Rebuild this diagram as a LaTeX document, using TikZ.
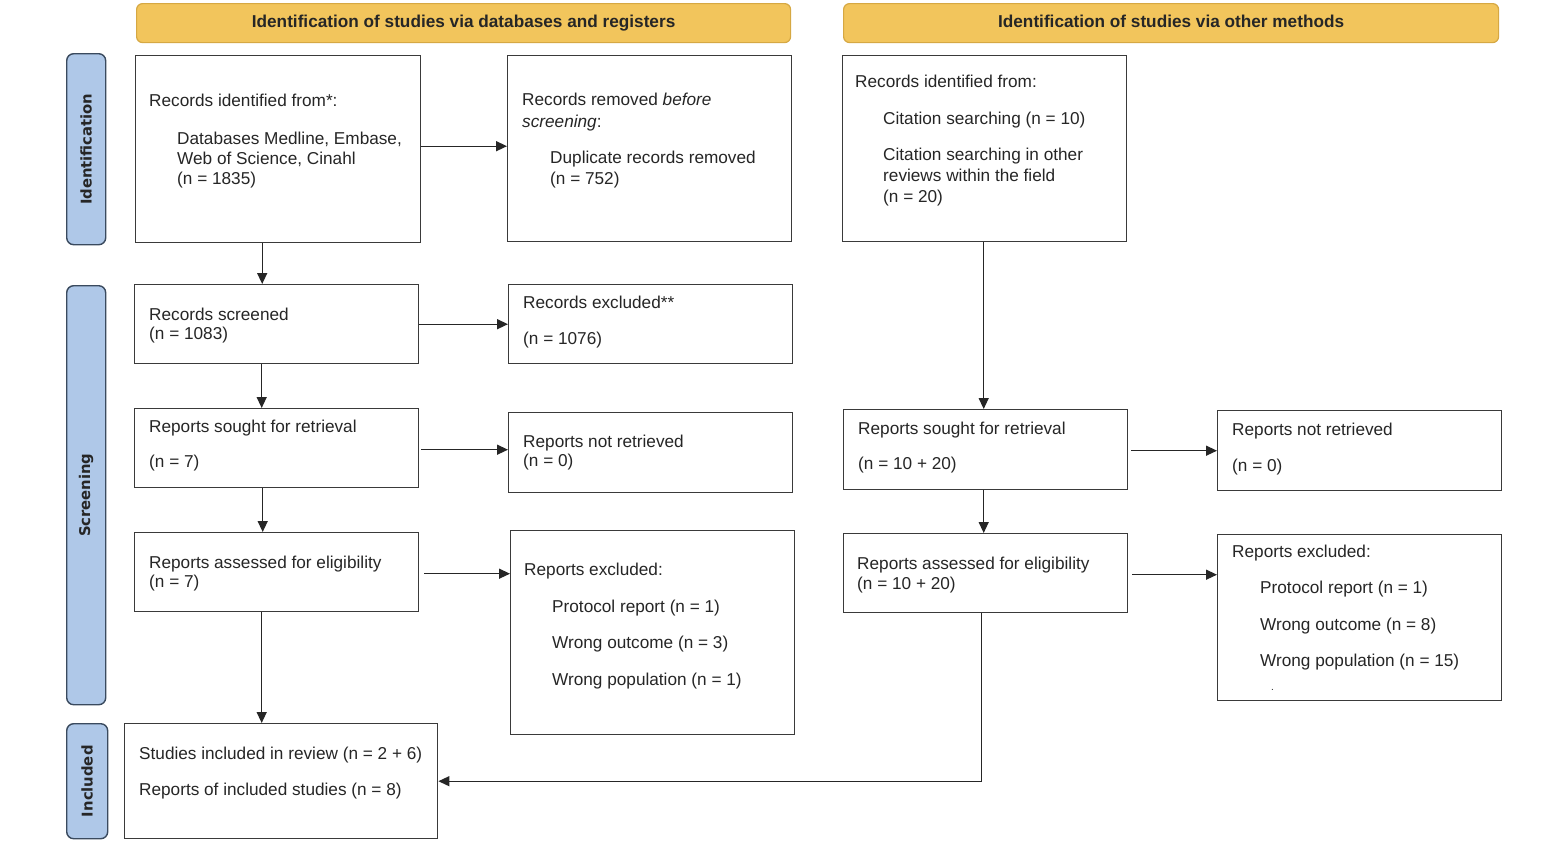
\documentclass[tikz,border=0pt]{standalone}
\usepackage{fontspec}
\setmainfont{Liberation Sans}
\newfontfamily\sidefont{DejaVu Sans}
\usetikzlibrary{arrows.meta,calc}
\definecolor{hdrfill}{HTML}{F2C55C}
\definecolor{hdrline}{HTML}{D6A843}
\definecolor{sidefill}{HTML}{AFC8E8}
\definecolor{sideline}{HTML}{3A4A5E}
\definecolor{boxline}{HTML}{3A3A3A}
\begin{document}
\begin{tikzpicture}[x=1pt,y=-1pt,
  box/.style={draw=boxline,line width=1.4pt,fill=white,anchor=north west,inner sep=0pt},
  hdr/.style={draw=hdrline,line width=1.2pt,fill=hdrfill,rounded corners=6pt,anchor=north west,inner sep=0pt},
  hdrtxt/.style={inner sep=0pt,font=\fontsize{17.2}{20}\selectfont\bfseries,text=black!85},
  side/.style={draw=sideline,line width=1.4pt,fill=sidefill,rounded corners=7pt,anchor=north west,inner sep=0pt},
  sidetxt/.style={rotate=90,inner sep=0pt,font=\sidefont\fontsize{14.8}{17}\selectfont\bfseries,text=black!85},
  txt/.style={anchor=base west,inner sep=0pt,font=\fontsize{17.2}{20}\selectfont,text=black!85},
  arr/.style={draw=black!85,line width=1.4pt,-{Triangle[length=11pt,width=10pt]}}]
\useasboundingbox (0,0) rectangle (1558,854);
\fill[white] (0,0) rectangle (1558,854);

% headers
\node[hdr,minimum width=654pt,minimum height=39pt] (h1) at (136,3) {};
\node[hdrtxt] (h1t) at (h1.center) {Identification of studies via databases and registers};
\node[hdr,minimum width=655pt,minimum height=39pt] (h2) at (843,3) {};
\node[hdrtxt] (h2t) at ([yshift=1.5pt]h2.center) {Identification of studies via other methods};

% side labels
\node[side,minimum width=39pt,minimum height=191pt] (s1) at (66,53) {};
\node[sidetxt] (s1t) at (s1.center) {Identification};
\node[side,minimum width=39pt,minimum height=419pt] (s2) at (66,285) {};
\node[sidetxt] (s2t) at (s2.center) {Screening};
\node[side,minimum width=41pt,minimum height=115pt] (s3) at (66,723) {};
\node[sidetxt] (s3t) at (s3.center) {Included};

% boxes
\node[box,minimum width=285pt,minimum height=187pt] (rid) at (135,55) {};
\node[box,minimum width=284pt,minimum height=186pt] (rrem) at (507,55) {};
\node[box,minimum width=284pt,minimum height=186pt] (oid) at (842,55) {};
\node[box,minimum width=284pt,minimum height=79pt] (scr) at (134,284) {};
\node[box,minimum width=284pt,minimum height=79pt] (rexcl) at (508,284) {};
\node[box,minimum width=284pt,minimum height=79pt] (sought1) at (134,408) {};
\node[box,minimum width=284pt,minimum height=80pt] (notret1) at (508,412) {};
\node[box,minimum width=284pt,minimum height=79pt] (assess1) at (134,532) {};
\node[box,minimum width=284pt,minimum height=204pt] (excl1) at (510,530) {};
\node[box,minimum width=284pt,minimum height=80pt] (sought2) at (843,409) {};
\node[box,minimum width=284pt,minimum height=80pt] (notret2) at (1217,410) {};
\node[box,minimum width=284pt,minimum height=79pt] (assess2) at (843,533) {};
\node[box,minimum width=284pt,minimum height=166pt] (excl2) at (1217,534) {};
\node[box,minimum width=313pt,minimum height=115pt] (incl) at (124,723) {};

% texts
\node[txt] (t1a) at (149,106) {Records identified from*:};
\node[txt] (t1b) at (177,144) {Databases Medline, Embase,};
\node[txt] (t1c) at (177,164) {Web of Science, Cinahl};
\node[txt] (t1d) at (177,184) {(n = 1835)};

\node[txt] (t2a) at (522,105) {Records removed \textit{before}};
\node[txt] (t2b) at (522,127) {\textit{screening}:};
\node[txt] (t2c) at (550,163) {Duplicate records removed};
\node[txt] (t2d) at (550,184) {(n = 752)};

\node[txt] (t3a) at (855,87) {Records identified from:};
\node[txt] (t3b) at (883,124) {Citation searching (n = 10)};
\node[txt] (t3c) at (883,160) {Citation searching in other};
\node[txt] (t3d) at (883,181) {reviews within the field};
\node[txt] (t3e) at (883,202) {(n = 20)};

\node[txt] (t4a) at (149,320) {Records screened};
\node[txt] (t4b) at (149,339) {(n = 1083)};

\node[txt] (t5a) at (523,308) {Records excluded**};
\node[txt] (t5b) at (523,344) {(n = 1076)};

\node[txt] (t6a) at (149,432) {Reports sought for retrieval};
\node[txt] (t6b) at (149,467) {(n = 7)};

\node[txt] (t7a) at (523,447) {Reports not retrieved};
\node[txt] (t7b) at (523,466) {(n = 0)};

\node[txt] (t8a) at (149,568) {Reports assessed for eligibility};
\node[txt] (t8b) at (149,587) {(n = 7)};

\node[txt] (t9a) at (524,575) {Reports excluded:};
\node[txt] (t9b) at (552,612) {Protocol report (n = 1)};
\node[txt] (t9c) at (552,648) {Wrong outcome (n = 3)};
\node[txt] (t9d) at (552,685) {Wrong population (n = 1)};

\node[txt] (t10a) at (858,434) {Reports sought for retrieval};
\node[txt] (t10b) at (858,469) {(n = 10 + 20)};

\node[txt] (t11a) at (1232,435) {Reports not retrieved};
\node[txt] (t11b) at (1232,471) {(n = 0)};

\node[txt] (t12a) at (857,569) {Reports assessed for eligibility};
\node[txt] (t12b) at (857,589) {(n = 10 + 20)};

\node[txt] (t13a) at (1232,557) {Reports excluded:};
\node[txt] (t13b) at (1260,593) {Protocol report (n = 1)};
\node[txt] (t13c) at (1260,630) {Wrong outcome (n = 8)};
\node[txt] (t13d) at (1260,666) {Wrong population (n = 15)};
\node[txt,font=\fontsize{10}{10}\selectfont] (t13e) at (1271,690) {.};

\node[txt] (t14a) at (139,759) {Studies included in review (n = 2 + 6)};
\node[txt] (t14b) at (139,795) {Reports of included studies (n = 8)};

% connectors
\draw[arr] ([yshift=3pt]rid.east) -- ([yshift=3pt]rid.east -| rrem.west);
\draw[arr] ([xshift=-16pt]rid.south) -- ([xshift=-16pt]rid.south |- scr.north);
\draw[arr] (scr.east) -- (scr.east -| rexcl.west);
\draw[arr] ([xshift=2pt,yshift=-1.5pt]sought1.east) -- ([yshift=-1.5pt]sought1.east -| notret1.west);
\draw[arr] ([xshift=-15pt]scr.south) -- ([xshift=-15pt]scr.south |- sought1.north);
\draw[arr] ([xshift=-14pt]sought1.south) -- ([xshift=-14pt]sought1.south |- assess1.north);
\draw[arr] ([xshift=5pt,yshift=-1.5pt]assess1.east) -- ([yshift=-1.5pt]assess1.east -| excl1.west);
\draw[arr] ([xshift=-15pt]assess1.south) -- ([xshift=-15pt]assess1.south |- incl.north);
\draw[arr] ([xshift=-1pt]oid.south) -- ([xshift=-1pt]oid.south |- sought2.north);
\draw[arr] ([xshift=3pt,yshift=-1pt]sought2.east) -- ([yshift=-1pt]sought2.east -| notret2.west);
\draw[arr] ([xshift=-2pt]sought2.south) -- ([xshift=-2pt]sought2.south |- assess2.north);
\draw[arr] ([xshift=4pt,yshift=-1.5pt]assess2.east) -- ([yshift=-1.5pt]assess2.east -| excl2.west);
\coordinate (bend) at ([xshift=-4pt]assess2.south |- incl.east);
\draw[arr] ([xshift=-4pt]assess2.south) -- (bend) -- (incl.east);
\end{tikzpicture}
\end{document}
